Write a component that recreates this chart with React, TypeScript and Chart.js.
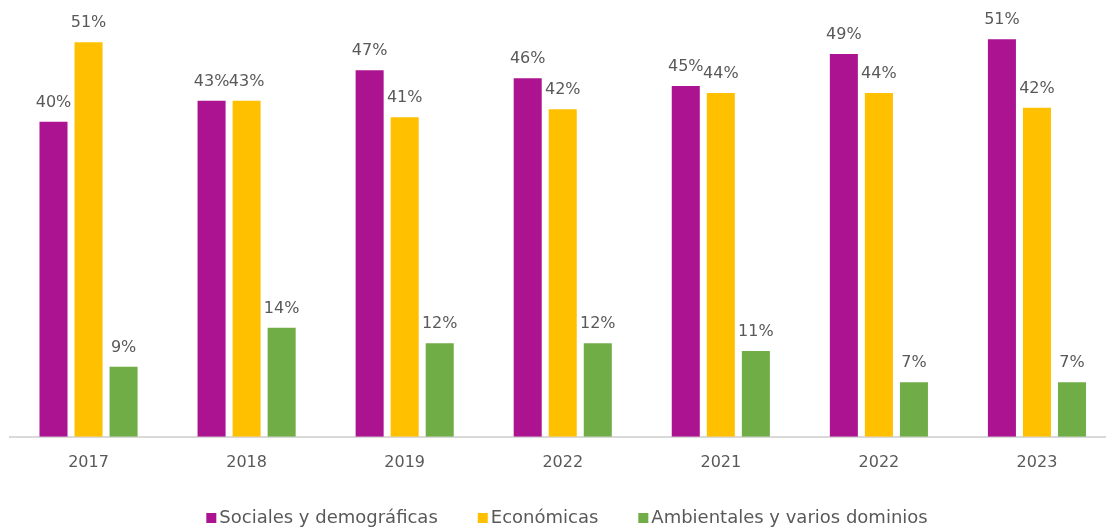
import React, { useEffect, useRef } from "react";
import { Chart, registerables } from "chart.js";

Chart.register(...registerables);

const categories = ["2017", "2018", "2019", "2022", "2021", "2022", "2023"];
const sociales = [40.4, 43.1, 47, 46, 45, 49.1, 51];
const economicas = [50.6, 43.1, 41, 42, 44.1, 44.1, 42.2];
const ambientales = [9, 14, 12, 12, 11, 7, 7];
const seriesNames = ["Sociales y demográficas", "Económicas", "Ambientales y varios dominios"];
const seriesColors = ["#AC1390", "#FFC000", "#70AD47"];

const FONT = "'DejaVu Sans', sans-serif";
const TEXT = "#595959";

const valueLabels = {
  id: "valueLabels",
  afterDatasetsDraw(chart: any) {
    const ctx = chart.ctx;
    ctx.save();
    ctx.font = `16px ${FONT}`;
    ctx.fillStyle = TEXT;
    ctx.textAlign = "center";
    ctx.textBaseline = "alphabetic";
    chart.data.datasets.forEach((ds: any, i: number) => {
      const meta = chart.getDatasetMeta(i);
      meta.data.forEach((bar: any, j: number) => {
        ctx.fillText(Math.round(ds.data[j]) + "%", bar.x, bar.y - 15);
      });
    });
    ctx.restore();
  },
};

const customLegend = {
  id: "customLegend",
  afterDraw(chart: any) {
    const ctx = chart.ctx;
    ctx.save();
    ctx.font = `18px ${FONT}`;
    ctx.textBaseline = "middle";
    ctx.textAlign = "left";
    const items = chart.data.datasets.map((ds: any) => ({
      text: ds.label,
      color: ds.backgroundColor,
      w: ctx.measureText(ds.label).width,
    }));
    const box = 10;
    const gapBox = 3;
    const gapItem = 40;
    const total =
      items.reduce((s: number, it: any) => s + box + gapBox + it.w, 0) + gapItem * (items.length - 1);
    const cx = 567;
    const y = 518;
    let x = cx - total / 2;
    items.forEach((it: any) => {
      ctx.fillStyle = it.color;
      ctx.fillRect(x, y - box / 2, box, box);
      x += box + gapBox;
      ctx.fillStyle = TEXT;
      ctx.fillText(it.text, x, y);
      x += it.w + gapItem;
    });
    ctx.restore();
  },
};

export default function App() {
  const ref = useRef<HTMLCanvasElement>(null);
  useEffect(() => {
    document.body.style.margin = "0";
    const chart = new Chart(ref.current as HTMLCanvasElement, {
      type: "bar",
      data: {
        labels: categories,
        datasets: [sociales, economicas, ambientales].map((d, i) => ({
          label: seriesNames[i],
          data: d,
          backgroundColor: seriesColors[i],
          borderWidth: 0,
          barPercentage: 0.8,
          categoryPercentage: 0.665,
        })),
      },
      options: {
        responsive: false,
        animation: false,
        layout: { padding: { left: 9.5, right: 10, top: 8, bottom: 41 } },
        plugins: {
          legend: { display: false },
          tooltip: { enabled: false },
        },
        scales: {
          x: {
            grid: { display: false, drawTicks: false },
            border: { display: true, color: "#D9D9D9", width: 2 },
            ticks: { color: TEXT, font: { family: FONT, size: 16 }, padding: 16 },
          },
          y: { display: false, min: 0, max: 55 },
        },
      },
      plugins: [valueLabels, customLegend],
    });
    return () => chart.destroy();
  }, []);
  return (
    <div style={{ position: "absolute", left: 0, top: 0, width: 1106, height: 529, overflow: "hidden" }}>
      <canvas ref={ref} width={1126} height={529} />
    </div>
  );
}
